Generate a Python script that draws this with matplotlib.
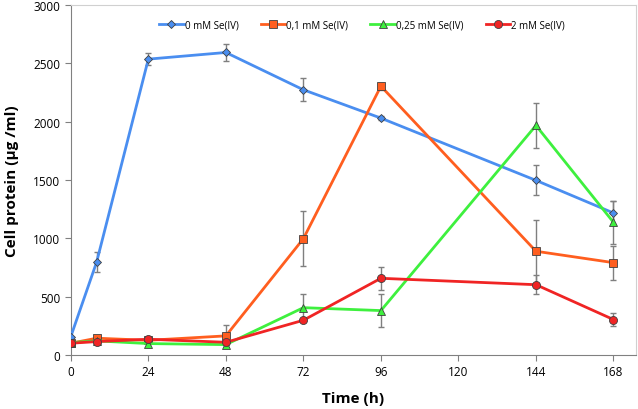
import matplotlib
matplotlib.use("Agg")
import matplotlib.pyplot as plt

time = [0, 8, 24, 48, 72, 96, 144, 168]
labels = ["0 mM Se(IV)", "0,1 mM Se(IV)", "0,25 mM Se(IV)", "2 mM Se(IV)"]
se0 = [157, 797, 2537, 2594, 2274, 2031, 1497, 1217]
se0_err = [0, 88, 50, 70, 97, 20, 128, 100]
se01 = [100, 143, 125, 163, 997, 2305, 889, 791]
se01_err = [0, 0, 0, 94, 234, 30, 270, 146]
se025 = [105, 120, 97, 88, 405, 380, 1968, 1137]
se025_err = [0, 0, 0, 0, 118, 143, 190, 183]
se2 = [100, 114, 134, 108, 297, 657, 602, 303]
se2_err = [0, 0, 0, 0, 0, 100, 84, 55]

series = [se0, se01, se025, se2]
errs = [se0_err, se01_err, se025_err, se2_err]
colors = ["#4a8ef0", "#ff5e1f", "#3ef03e", "#f02424"]
markers = ["D", "s", "^", "o"]
msizes = [3.8, 5.5, 5.5, 5.8]

plt.rcParams['font.family'] = ['Open Sans', 'DejaVu Sans']
fig = plt.figure(figsize=(6.38, 4.10), dpi=100)
ax = fig.add_axes([0.111, 0.132, 0.886, 0.853])

for y, e, c, m, ms, lab in zip(series, errs, colors, markers, msizes, labels):
    ax.errorbar(time, y, yerr=e, fmt='none', ecolor='#7f7f7f', elinewidth=1.0,
                capsize=2.5, capthick=1.0, zorder=2)
    ax.plot(time, y, color=c, lw=2.0, marker=m, markersize=ms, markerfacecolor=c,
            markeredgecolor='#404040', markeredgewidth=0.6, label=lab, zorder=3)

ax.set_xlim(0, 175)
ax.set_ylim(0, 3000)
ax.set_xticks([0, 24, 48, 72, 96, 120, 144, 168])
ax.set_yticks([0, 500, 1000, 1500, 2000, 2500, 3000])
ax.tick_params(labelsize=8.5, length=4, color='#808080')
for s in ['left', 'bottom']:
    ax.spines[s].set_color('#808080')
for s in ['top', 'right']:
    ax.spines[s].set_color('#d0d0d0')
ax.set_xlabel("Time (h)", fontsize=11, fontweight='bold', labelpad=9)
ax.set_ylabel("Cell protein (µg /ml)", fontsize=11, fontweight='bold', labelpad=10)

ax.legend(loc='upper center', ncol=4, frameon=False, fontsize=7,
          bbox_to_anchor=(0.515, 0.985), handlelength=2.5, columnspacing=2.3,
          handletextpad=0.1)

fig.savefig("out.png", dpi=100)
